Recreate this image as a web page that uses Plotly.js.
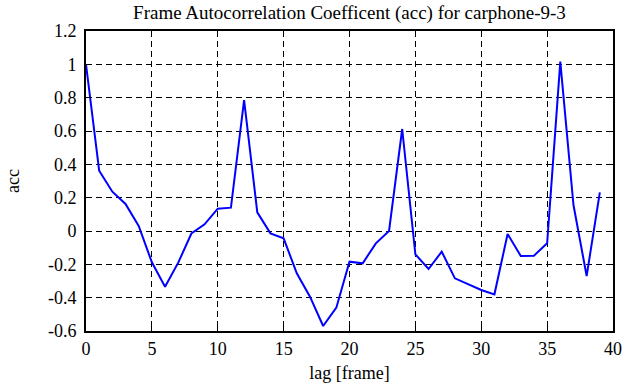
<!DOCTYPE html>
<html>
<head>
<meta charset="utf-8">
<script src="https://cdn.plot.ly/plotly-3.0.1.min.js"></script>
<style>html,body{margin:0;padding:0;background:#fff;}#chart{width:635px;height:387px;}</style>
</head>
<body>
<div id="chart"></div>
<script>
const lags = [0,1,2,3,4,5,6,7,8,9,10,11,12,13,14,15,16,17,18,19,20,21,22,23,24,25,26,27,28,29,30,31,32,33,34,35,36,37,38,39];
const acc = [1.0,0.362,0.236,0.162,0.03,-0.188,-0.334,-0.19,-0.015,0.04,0.134,0.14,0.785,0.112,-0.014,-0.044,-0.254,-0.394,-0.57,-0.46,-0.184,-0.194,-0.074,0.0,0.612,-0.14,-0.228,-0.124,-0.284,-0.32,-0.354,-0.38,-0.018,-0.15,-0.148,-0.074,1.016,0.156,-0.27,0.232];
const xTicks = [0,5,10,15,20,25,30,35,40];
const yTicks = [-0.6,-0.4,-0.2,0,0.2,0.4,0.6,0.8,1,1.2];
const yTickText = ["-0.6","-0.4","-0.2","0","0.2","0.4","0.6","0.8","1","1.2"];

const fam = 'Liberation Serif, DejaVu Serif, serif';
const tickFont = {family: fam, color: '#000', size: 18};
const labelFont = {family: fam, color: '#000', size: 18};
const titleFont = {family: fam, color: '#000', size: 19};

const axisCommon = {
  showline: true, linecolor: '#000', linewidth: 2, mirror: 'ticks',
  ticks: 'inside', ticklen: 5, tickwidth: 1, tickcolor: '#000',
  showgrid: true, gridcolor: '#000', gridwidth: 1, griddash: '6px,4px',
  zeroline: false
};

Plotly.newPlot('chart', [{
  x: lags, y: acc, type: 'scatter', mode: 'lines',
  line: {color: '#0000ff', width: 2}
}], {
  width: 635, height: 387,
  margin: {l: 86, r: 22, t: 31, b: 56},
  paper_bgcolor: '#fff', plot_bgcolor: '#fff',
  showlegend: false,
  font: {family: fam, color: '#000', size: 18},
  title: {text: 'Frame Autocorrelation Coefficent (acc) for carphone-9-3', font: titleFont, x: 0.5, xref: 'paper', xanchor: 'center', y: 0.985, yanchor: 'top'},
  xaxis: Object.assign({}, axisCommon, {range: [0, 40], tickvals: xTicks, tickfont: tickFont, title: {text: 'lag [frame]', font: labelFont, standoff: 9}}),
  yaxis: Object.assign({}, axisCommon, {range: [-0.6, 1.2], tickvals: yTicks, ticktext: yTickText, tickfont: tickFont, ticklabelstandoff: 4, title: {text: 'acc', font: labelFont, standoff: 24}})
}, {displayModeBar: false, staticPlot: true});
</script>
</body>
</html>
